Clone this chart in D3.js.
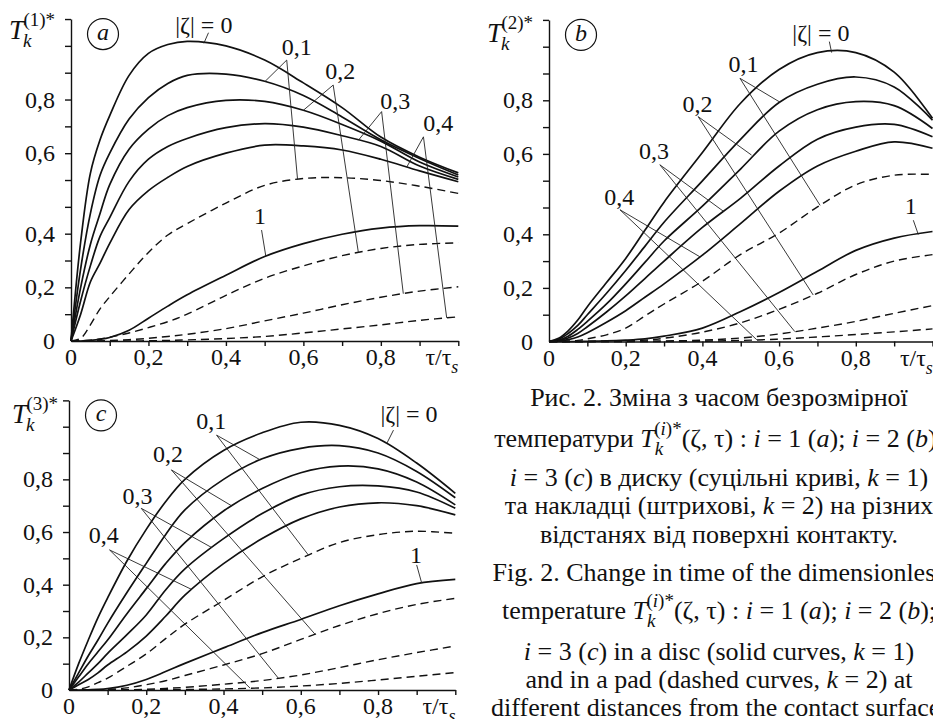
<!DOCTYPE html>
<html>
<head>
<meta charset="UTF-8">
<title>Рис. 2. Зміна з часом безрозмірної температури</title>
<script src="https://cdn.jsdelivr.net/npm/d3@7"></script>
<style>
  body { margin: 0; background: #fff; }
  svg { display: block; }
  text { font-family: "Liberation Serif", "Times New Roman", serif; fill: #111; }
  .curve { fill: none; stroke: #111; stroke-width: 1.7; }
  .curve.dash { stroke-dasharray: 8,5; stroke-width: 1.4; }
  .leader { fill: none; stroke: #222; stroke-width: 0.9; }
  .axis path, .axis line { stroke: #111; stroke-width: 1.4; }
  .lbl { font-size: 24px; }
  .cap { font-size: 26px; }
</style>
</head>
<body>
<svg id="fig" width="933" height="719"></svg>
<script>
var tGrid = [0, 0.025, 0.05, 0.075, 0.1, 0.15, 0.2, 0.25, 0.3, 0.4, 0.5, 0.6, 0.7, 0.8, 0.9, 1.0];

// panel a (i = 1): solid = disc (k = 1), dashed = pad (k = 2)
var aZ0 = [0, 0.37, 0.55, 0.65, 0.74, 0.89, 0.972, 1.005, 1.017, 1.0, 0.947, 0.862, 0.77, 0.66, 0.59, 0.551];
var aZ1 = [0, 0.27, 0.45, 0.545, 0.6, 0.727, 0.807, 0.86, 0.89, 0.895, 0.868, 0.815, 0.735, 0.65, 0.587, 0.546];
var aZ2 = [0, 0.2, 0.36, 0.45, 0.522, 0.615, 0.69, 0.74, 0.77, 0.797, 0.793, 0.76, 0.707, 0.645, 0.578, 0.541];
var aZ3 = [0, 0.15, 0.28, 0.39, 0.44, 0.53, 0.585, 0.625, 0.655, 0.695, 0.71, 0.697, 0.665, 0.625, 0.568, 0.535];
var aZ4 = [0, 0.1, 0.22, 0.29, 0.364, 0.46, 0.507, 0.54, 0.567, 0.6, 0.63, 0.627, 0.612, 0.585, 0.556, 0.529];
var aS1 = [0, 0, 0.002, 0.006, 0.013, 0.04, 0.085, 0.13, 0.172, 0.245, 0.315, 0.363, 0.398, 0.414, 0.42, 0.419];
var aD1 = [0, 0.01, 0.06, 0.12, 0.165, 0.25, 0.33, 0.395, 0.425, 0.476, 0.52, 0.537, 0.539, 0.532, 0.518, 0.5];
var aD2 = [0, 0, 0.003, 0.008, 0.014, 0.03, 0.05, 0.072, 0.1, 0.17, 0.234, 0.28, 0.318, 0.345, 0.36, 0.366];
var aD3 = [0, 0, 0, 0, 0.002, 0.005, 0.01, 0.017, 0.025, 0.046, 0.075, 0.104, 0.135, 0.163, 0.186, 0.202];
var aD4 = [0, 0, 0, 0, 0, 0, 0.001, 0.002, 0.004, 0.009, 0.017, 0.03, 0.045, 0.06, 0.077, 0.09];

// panel b (i = 2)
var bZ0 = [0, 0.012, 0.04, 0.08, 0.13, 0.22, 0.31, 0.41, 0.48, 0.605, 0.79, 0.915, 0.978, 0.978, 0.905, 0.733];
var bZ1 = [0, 0.008, 0.03, 0.06, 0.1, 0.18, 0.265, 0.355, 0.43, 0.533, 0.655, 0.792, 0.86, 0.887, 0.85, 0.726];
var bZ2 = [0, 0.005, 0.02, 0.045, 0.075, 0.14, 0.215, 0.295, 0.375, 0.47, 0.563, 0.685, 0.765, 0.795, 0.78, 0.695];
var bZ3 = [0, 0.003, 0.013, 0.03, 0.055, 0.11, 0.17, 0.235, 0.3, 0.417, 0.49, 0.57, 0.655, 0.7, 0.71, 0.664];
var bZ4 = [0, 0.002, 0.007, 0.017, 0.033, 0.072, 0.115, 0.165, 0.215, 0.322, 0.427, 0.507, 0.57, 0.61, 0.645, 0.621];
var bS1 = [0, 0, 0, 0, 0.001, 0.002, 0.005, 0.01, 0.02, 0.05, 0.112, 0.183, 0.262, 0.34, 0.386, 0.407];
var bD1 = [0, 0, 0.001, 0.004, 0.01, 0.025, 0.05, 0.095, 0.14, 0.225, 0.325, 0.403, 0.468, 0.523, 0.547, 0.549];
var bD2 = [0, 0, 0, 0, 0, 0.001, 0.002, 0.005, 0.012, 0.035, 0.07, 0.12, 0.18, 0.25, 0.3, 0.324];
var bD3 = [0, 0, 0, 0, 0, 0, 0, 0.001, 0.002, 0.005, 0.013, 0.028, 0.05, 0.075, 0.105, 0.134];
var bD4 = [0, 0, 0, 0, 0, 0, 0, 0, 0, 0.001, 0.004, 0.009, 0.017, 0.026, 0.036, 0.047];

// panel c (i = 3)
var cZ0 = [0, 0.1, 0.19, 0.275, 0.35, 0.49, 0.61, 0.715, 0.8, 0.91, 0.977, 1.017, 1.005, 0.955, 0.862, 0.747];
var cZ1 = [0, 0.065, 0.13, 0.19, 0.253, 0.37, 0.481, 0.59, 0.684, 0.8, 0.878, 0.918, 0.928, 0.9, 0.83, 0.73];
var cZ2 = [0, 0.05, 0.1, 0.145, 0.19, 0.29, 0.385, 0.48, 0.56, 0.68, 0.765, 0.825, 0.85, 0.84, 0.79, 0.703];
var cZ3 = [0, 0.03, 0.065, 0.1, 0.139, 0.21, 0.285, 0.38, 0.46, 0.575, 0.67, 0.74, 0.772, 0.775, 0.752, 0.69];
var cZ4 = [0, 0.02, 0.04, 0.065, 0.095, 0.145, 0.205, 0.28, 0.36, 0.48, 0.575, 0.65, 0.695, 0.711, 0.7, 0.665];
var cS1 = [0, 0, 0.001, 0.002, 0.005, 0.018, 0.04, 0.07, 0.101, 0.16, 0.218, 0.268, 0.32, 0.365, 0.404, 0.42];
var cD1 = [0, 0.003, 0.012, 0.028, 0.045, 0.09, 0.137, 0.195, 0.25, 0.34, 0.43, 0.5, 0.56, 0.59, 0.603, 0.595];
var cD2 = [0, 0, 0, 0.001, 0.002, 0.008, 0.02, 0.035, 0.055, 0.095, 0.138, 0.192, 0.245, 0.29, 0.325, 0.348];
var cD3 = [0, 0, 0, 0, 0, 0.001, 0.003, 0.006, 0.01, 0.022, 0.036, 0.057, 0.085, 0.115, 0.142, 0.167];
var cD4 = [0, 0, 0, 0, 0, 0, 0, 0.001, 0.002, 0.004, 0.008, 0.015, 0.025, 0.038, 0.052, 0.066];

// tick labels
var xTickVals = [0, 0.2, 0.4, 0.6, 0.8];
var xTickLabels = ["0", "0,2", "0,4", "0,6", "0,8"];
var yTickVals = [0, 0.2, 0.4, 0.6, 0.8];
var yTickLabels = ["0", "0,2", "0,4", "0,6", "0,8"];

// curve labels: text position, leader start, leader ends on curves [curve, tau]
var aLabels = [
  {text: "|ζ| = 0", at: [0.343, 1.081], from: [0.355, 1.049], to: [["z0", 0.343]]},
  {text: "0,1", at: [0.583, 0.997], from: [0.557, 0.947], to: [["z1", 0.501], ["d1", 0.585]]},
  {text: "0,2", at: [0.695, 0.907], from: [0.677, 0.854], to: [["z2", 0.6], ["d2", 0.742]]},
  {text: "0,3", at: [0.837, 0.795], from: [0.802, 0.755], to: [["z3", 0.742], ["d3", 0.858]]},
  {text: "0,4", at: [0.948, 0.714], from: [0.91, 0.661], to: [["z4", 0.867], ["d4", 0.97]]},
  {text: "1", at: [0.488, 0.445], from: [0.492, 0.409], to: [["s1", 0.503]]}
];
var bLabels = [
  {text: "|ζ| = 0", at: [0.709, 1.051], from: [0.731, 1.019], to: [["z0", 0.737]]},
  {text: "0,1", at: [0.507, 0.938], from: [0.498, 0.882], to: [["z1", 0.602], ["d1", 0.707]]},
  {text: "0,2", at: [0.387, 0.786], from: [0.389, 0.739], to: [["z2", 0.528], ["d2", 0.689]]},
  {text: "0,3", at: [0.274, 0.612], from: [0.289, 0.573], to: [["z3", 0.455], ["d3", 0.641]]},
  {text: "0,4", at: [0.183, 0.493], from: [0.185, 0.461], to: [["z4", 0.394], ["d4", 0.542]]},
  {text: "1", at: [0.943, 0.471], from: [0.95, 0.435], to: [["s1", 0.963]]}
];
var cLabels = [
  {text: "|ζ| = 0", at: [0.88, 1.048], from: [0.84, 0.987], to: [["z0", 0.822]]},
  {text: "0,1", at: [0.368, 1.022], from: [0.382, 0.968], to: [["z1", 0.495], ["d1", 0.62]]},
  {text: "0,2", at: [0.256, 0.896], from: [0.265, 0.836], to: [["z2", 0.422], ["d2", 0.637]]},
  {text: "0,3", at: [0.177, 0.74], from: [0.187, 0.69], to: [["z3", 0.37], ["d3", 0.542]]},
  {text: "0,4", at: [0.09, 0.589], from: [0.105, 0.532], to: [["z4", 0.318], ["d4", 0.469]]},
  {text: "1", at: [0.898, 0.516], from: [0.9, 0.475], to: [["s1", 0.913]]}
];

// caption, segments: [text, flags] i = italic, b = subscript, p = superscript, k = step back
var captionLines = [
  [["Рис. 2. Зміна з часом безрозмірної"]],
  [["температури "], ["T", "i"], ["k", "ib"], ["(", "pk"], ["i", "ip"], [")*", "p"], ["(ζ, τ) : "], ["i", "i"], [" = 1 ("], ["a", "i"], ["); "], ["i", "i"], [" = 2 ("], ["b", "i"], [");"]],
  [["i", "i"], [" = 3 ("], ["c", "i"], [") в диску (суцільні криві, "], ["k", "i"], [" = 1)"]],
  [["та накладці (штрихові, "], ["k", "i"], [" = 2) на різних"]],
  [["відстанях від поверхні контакту."]],
  [["Fig. 2. Change in time of the dimensionless"]],
  [["temperature "], ["T", "i"], ["k", "ib"], ["(", "pk"], ["i", "ip"], [")*", "p"], ["(ζ, τ) : "], ["i", "i"], [" = 1 ("], ["a", "i"], ["); "], ["i", "i"], [" = 2 ("], ["b", "i"], [");"]],
  [["i", "i"], [" = 3 ("], ["c", "i"], [") in a disc (solid curves, "], ["k", "i"], [" = 1)"]],
  [["and in a pad (dashed curves, "], ["k", "i"], [" = 2) at"]],
  [["different distances from the contact surface."]]
];
var captionBase = [406, 447, 486, 514, 543, 581, 619, 660, 688, 716];

var panels = [
  {name: "a", sup: "(1)*", x0: 71, x1: 458.3, y0: 341, step: 26.83, nTicks: 12,
   knots: [0, 0.4, 0.6, 1.1], knotTicks: [0, 4, 7, 12], titleXY: [9, 39],
   series: {z0: aZ0, z1: aZ1, z2: aZ2, z3: aZ3, z4: aZ4, s1: aS1, d1: aD1, d2: aD2, d3: aD3, d4: aD4},
   labels: aLabels},
  {name: "b", sup: "(2)*", x0: 549, x1: 932.5, y0: 341.5, step: 26.8, nTicks: 12,
   knots: [0, 0.4, 0.6, 1.1], knotTicks: [0, 4, 7, 12], titleXY: [487, 42],
   series: {z0: bZ0, z1: bZ1, z2: bZ2, z3: bZ3, z4: bZ4, s1: bS1, d1: bD1, d2: bD2, d3: bD3, d4: bD4},
   labels: bLabels},
  {name: "c", sup: "(3)*", x0: 69, x1: 455.3, y0: 690, step: 26.33, nTicks: 11,
   knots: [0, 1.1], knotTicks: [0, 11], titleXY: [12, 423],
   series: {z0: cZ0, z1: cZ1, z2: cZ2, z3: cZ3, z4: cZ4, s1: cS1, d1: cD1, d2: cD2, d3: cD3, d4: cD4},
   labels: cLabels}
];

var svg = d3.select("#fig");

function valAt(vals, t) {
  var i = d3.bisectRight(tGrid, t);
  if (i <= 0) return vals[0];
  if (i >= tGrid.length) return vals[vals.length - 1];
  var f = (t - tGrid[i - 1]) / (tGrid[i] - tGrid[i - 1]);
  return vals[i - 1] + f * (vals[i] - vals[i - 1]);
}

function writeRich(text, segs, small, subBack) {
  var level = 0, lastW = 0;
  segs.forEach(function(s) {
    var fl = s[1] || "";
    var target = fl.indexOf("b") >= 0 ? 8 : (fl.indexOf("p") >= 0 ? -12 : 0);
    var ts = text.append("tspan").text(s[0]);
    if (fl.indexOf("i") >= 0) ts.attr("font-style", "italic");
    if (target !== 0) ts.attr("font-size", small);
    if (target !== level) ts.attr("dy", target - level);
    if (fl.indexOf("k") >= 0) ts.attr("dx", -lastW);
    level = target;
    lastW = target === 8 ? subBack : 0;
  });
}

function drawPanel(p) {
  var g = svg.append("g");
  var x = d3.scaleLinear().domain([0, 1]).range([p.x0, p.x1]);
  var yT = d3.scaleLinear().domain([0, p.nTicks]).range([p.y0, p.y0 - p.nTicks * p.step]);
  var y = d3.scaleLinear().domain(p.knots).range(p.knotTicks.map(yT));

  // axes with minor ticks
  g.append("g").attr("class", "axis")
    .attr("transform", "translate(0," + p.y0 + ")")
    .call(d3.axisBottom(x).tickValues(d3.range(1, 11).map(function(i) { return i / 10; }))
      .tickFormat("").tickSize(5).tickSizeOuter(0));
  g.append("g").attr("class", "axis")
    .attr("transform", "translate(" + p.x0 + ",0)")
    .call(d3.axisLeft(yT).tickValues(d3.range(1, p.nTicks + 1))
      .tickFormat("").tickSize(6).tickSizeOuter(0));

  g.selectAll(".xl").data(xTickVals).enter().append("text")
    .attr("class", "lbl").attr("text-anchor", "middle")
    .attr("x", function(d) { return x(d); })
    .attr("y", p.y0 + 24)
    .text(function(d, i) { return xTickLabels[i]; });
  var xt = g.append("text").attr("class", "lbl").attr("x", x(0.915)).attr("y", p.y0 + 24);
  writeRich(xt, [["τ/τ"], ["s", "ib"]], 18, 0);

  g.selectAll(".yl").data(yTickVals).enter().append("text")
    .attr("class", "lbl").attr("text-anchor", "end")
    .attr("x", p.x0 - 16)
    .attr("y", function(d) { return y(d) + 8; })
    .text(function(d, i) { return yTickLabels[i]; });

  // axis title T_k^(i)*
  var tt = g.append("text").attr("x", p.titleXY[0]).attr("y", p.titleXY[1]);
  tt.append("tspan").attr("font-style", "italic").attr("font-size", 27).text("T");
  tt.append("tspan").attr("font-style", "italic").attr("font-size", 19).attr("dx", -1).attr("dy", 8).text("k");
  tt.append("tspan").attr("font-size", 19).attr("dx", -8).attr("dy", -21).text(p.sup);

  // panel letter in a circle
  var cx = p.x0 + 32, cy = yT(p.nTicks) + 15;
  g.append("circle").attr("cx", cx).attr("cy", cy).attr("r", 15.5)
    .attr("fill", "none").attr("stroke", "#111").attr("stroke-width", 1.2);
  g.append("text").attr("class", "lbl").attr("x", cx).attr("y", cy + 6)
    .attr("text-anchor", "middle").attr("font-style", "italic").text(p.name);

  // curves
  var line = d3.line()
    .x(function(d, i) { return x(tGrid[i]); })
    .y(function(d) { return y(d); })
    .curve(d3.curveCatmullRom.alpha(0.5));
  Object.keys(p.series).forEach(function(k) {
    g.append("path")
      .attr("class", k.charAt(0) === "d" ? "curve dash" : "curve")
      .attr("d", line(p.series[k]));
  });

  // labels with leader lines
  p.labels.forEach(function(l) {
    l.to.forEach(function(tg) {
      var vals = p.series[tg[0]];
      g.append("line").attr("class", "leader")
        .attr("x1", x(l.from[0])).attr("y1", y(l.from[1]))
        .attr("x2", x(tg[1])).attr("y2", y(valAt(vals, tg[1])));
    });
    g.append("text").attr("class", "lbl").attr("text-anchor", "middle")
      .attr("x", x(l.at[0])).attr("y", y(l.at[1]))
      .attr("dy", "0.35em")
      .text(l.text);
  });
}

panels.forEach(drawPanel);

// caption
captionLines.forEach(function(segs, i) {
  var t = svg.append("text").attr("class", "cap").attr("text-anchor", "middle")
    .attr("x", 719).attr("y", captionBase[i]);
  writeRich(t, segs, 19, 9);
});
</script>
</body>
</html>
